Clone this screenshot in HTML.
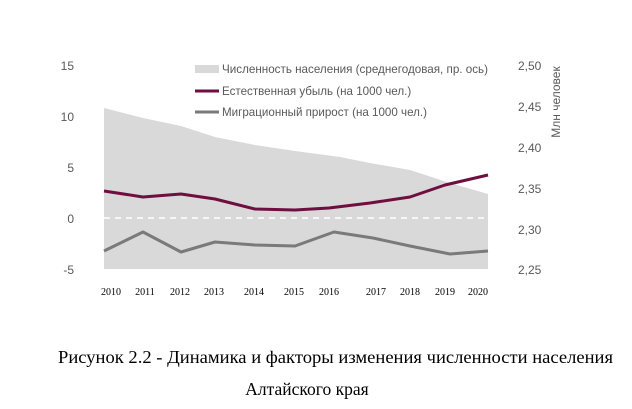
<!DOCTYPE html>
<html><head><meta charset="utf-8"><style>
body{margin:0;background:#fff;width:632px;height:409px;overflow:hidden;}
svg{position:absolute;left:0;top:0}
.s{font-family:"Liberation Sans","DejaVu Sans",sans-serif;font-size:12px;fill:#595959}
.l{font-size:11.6px}
.t{font-family:"Liberation Serif",serif;font-size:10px;fill:#000}
.c{font-family:"Liberation Serif",serif;font-size:17.5px;fill:#000}
</style></head><body>
<svg width="632" height="409" viewBox="0 0 632 409">
<polygon fill="#d9d9d9" points="104,108 143,118 181,126 215,137 255,145 295,151 340,157 370,163 410,170 450,183 488,194 488,269 104,269"/>
<line x1="104" y1="218" x2="488" y2="218" stroke="#fff" stroke-width="1.5" stroke-dasharray="6,5"/>
<polyline fill="none" stroke="#7a7a7a" stroke-width="3" stroke-linejoin="round" points="104,251 143,232 181,252 215,242 255,245 295,246 334,232 373,238 410,246 450,254 488,251"/>
<polyline fill="none" stroke="#6e0f40" stroke-width="3" stroke-linejoin="round" points="104,191 143,197 181,194 215,199 255,209 295,210 329,208 370,203 410,197 445,185 488,175"/>
<g class="s" text-anchor="end">
<text x="74" y="70">15</text><text x="74" y="121">10</text><text x="74" y="172">5</text><text x="74" y="223">0</text><text x="74" y="274">-5</text>
</g>
<g class="s">
<text x="518" y="70">2,50</text><text x="518" y="111">2,45</text><text x="518" y="152">2,40</text><text x="518" y="193">2,35</text><text x="518" y="234">2,30</text><text x="518" y="274">2,25</text>
<text transform="translate(560,102) rotate(-90)" text-anchor="middle">Млн человек</text>
</g>
<rect x="195" y="65" width="24" height="8" fill="#d9d9d9"/>
<line x1="195" y1="91" x2="219" y2="91" stroke="#6e0f40" stroke-width="3"/>
<line x1="195" y1="112" x2="219" y2="112" stroke="#7a7a7a" stroke-width="3"/>
<g class="s l">
<text x="222" y="73" textLength="266" lengthAdjust="spacingAndGlyphs">Численность населения (среднегодовая, пр. ось)</text>
<text x="222" y="95">Естественная убыль (на 1000 чел.)</text>
<text x="222" y="116">Миграционный прирост (на 1000 чел.)</text>
</g>
<g class="t" text-anchor="middle">
<text x="111" y="295">2010</text><text x="145" y="295">2011</text><text x="180" y="295">2012</text><text x="214" y="295">2013</text><text x="254" y="295">2014</text><text x="294" y="295">2015</text><text x="329" y="295">2016</text><text x="376" y="295">2017</text><text x="410" y="295">2018</text><text x="445" y="295">2019</text><text x="478" y="295">2020</text>
</g>
<text class="c" x="58" y="363" textLength="555" lengthAdjust="spacingAndGlyphs">Рисунок 2.2 - Динамика и факторы изменения численности населения</text>
<text class="c" x="307" y="395" text-anchor="middle">Алтайского края</text>
</svg>
</body></html>
